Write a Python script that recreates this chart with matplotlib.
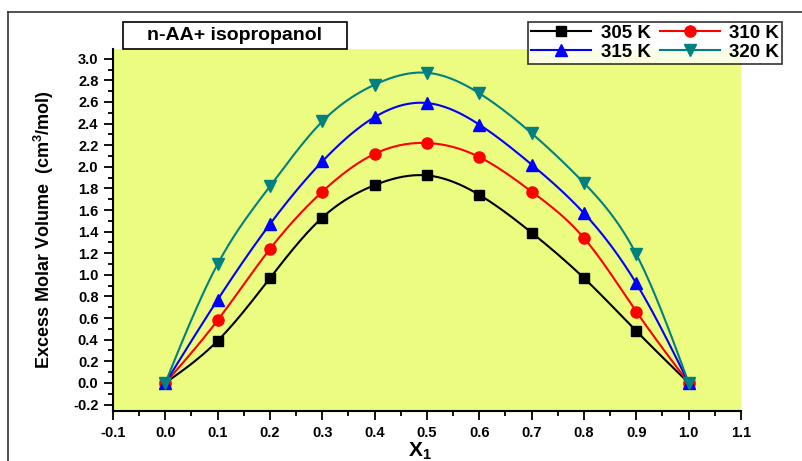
import numpy as np
import matplotlib
matplotlib.use("Agg")
import matplotlib.pyplot as plt
from matplotlib.ticker import MultipleLocator

plt.rcParams['font.family'] = ['Liberation Sans', 'DejaVu Sans']
plt.rcParams['font.weight'] = 'bold'
plt.rcParams['mathtext.fontset'] = 'custom'
plt.rcParams['mathtext.bf'] = 'Liberation Sans:bold'
plt.rcParams['mathtext.rm'] = 'Liberation Sans:bold'

# mole fraction and excess molar volume data
x1 = [0.0, 0.1, 0.2, 0.3, 0.4, 0.5, 0.6, 0.7, 0.8, 0.9, 1.0]
v_305 = [0.0, 0.39, 0.97, 1.53, 1.83, 1.92, 1.74, 1.39, 0.97, 0.48, 0.0]
v_310 = [0.0, 0.58, 1.24, 1.77, 2.12, 2.22, 2.09, 1.77, 1.34, 0.66, 0.0]
v_315 = [0.0, 0.77, 1.47, 2.05, 2.46, 2.59, 2.39, 2.02, 1.57, 0.92, 0.0]
v_320 = [0.0, 1.10, 1.82, 2.42, 2.76, 2.87, 2.68, 2.31, 1.85, 1.19, 0.0]

labels = ["305 K", "310 K", "315 K", "320 K"]
colors = ["black", "red", "blue", "#008080"]
markers = ["s", "o", "^", "v"]
msizes = [7, 8, 9, 9]


def spline(x, y, n=300):
    # natural cubic spline, only used to draw the smooth connecting line
    x = np.asarray(x, float)
    y = np.asarray(y, float)
    h = np.diff(x)
    m = len(x)
    A = np.zeros((m, m))
    b = np.zeros(m)
    A[0, 0] = A[-1, -1] = 1
    for i in range(1, m - 1):
        A[i, i - 1] = h[i - 1]
        A[i, i] = 2 * (h[i - 1] + h[i])
        A[i, i + 1] = h[i]
        b[i] = 6 * ((y[i + 1] - y[i]) / h[i] - (y[i] - y[i - 1]) / h[i - 1])
    M = np.linalg.solve(A, b)
    xs = np.linspace(x[0], x[-1], n)
    idx = np.clip(np.searchsorted(x, xs) - 1, 0, m - 2)
    xa, xb = x[idx], x[idx + 1]
    hh = xb - xa
    ys = (M[idx] * (xb - xs) ** 3 / (6 * hh) + M[idx + 1] * (xs - xa) ** 3 / (6 * hh)
          + (y[idx] / hh - M[idx] * hh / 6) * (xb - xs)
          + (y[idx + 1] / hh - M[idx + 1] * hh / 6) * (xs - xa))
    return xs, ys


fig = plt.figure(figsize=(8.03, 4.61), dpi=100)
ax = fig.add_axes([113 / 803, 1 - 411 / 461, (741 - 113) / 803, (411 - 49) / 461])
ax.set_facecolor("#ebfc80")

handles = []
for y, lab, c, mk, ms in zip([v_305, v_310, v_315, v_320], labels, colors, markers, msizes):
    xs, ys = spline(x1, y)
    ax.plot(xs, ys, color=c, lw=1.5)
    ax.plot(x1, y, ls="none", marker=mk, color=c, ms=ms)
    h, = ax.plot([], [], color=c, lw=1.5, marker=mk, ms=ms, label=lab)
    handles.append(h)

ax.set_xlim(-0.1, 1.1)
ax.set_ylim(-0.26, 3.09)
ax.xaxis.set_minor_locator(MultipleLocator(0.05))
ax.yaxis.set_minor_locator(MultipleLocator(0.1))
ax.set_xticks(np.arange(-0.1, 1.11, 0.1))
ax.set_xticklabels(["%.1f" % v for v in np.arange(-0.1, 1.11, 0.1)])
ax.set_yticks(np.arange(-0.2, 3.01, 0.2))
ax.set_yticklabels(["%.1f" % v for v in np.arange(-0.2, 3.01, 0.2)])
ax.tick_params(which="major", direction="out", length=6.5, width=1.3, labelsize=10.5, pad=4)
ax.tick_params(which="minor", direction="out", length=3.5, width=1.3)
for s in ["top", "right"]:
    ax.spines[s].set_visible(False)
for s in ["left", "bottom"]:
    ax.spines[s].set_linewidth(1.5)

ax.set_ylabel("Excess Molar Volume  (cm$^\\mathbf{3}$/mol)", fontsize=13, fontweight="bold",
              labelpad=12)
fig.text(420 / 803, 1 - 451 / 461, "X$_\\mathbf{1}$", fontsize=15, ha="center", va="center")

# title box
fig.add_artist(plt.Rectangle((123 / 803, 1 - 49 / 461), 224 / 803, 27 / 461,
                             transform=fig.transFigure, fc="white", ec="black", lw=1.2))
fig.text(235 / 803, 1 - 35.5 / 461, "n-AA+ isopropanol", fontsize=14, ha="center", va="center")

# legend filled row by row: 305, 310 / 315, 320
order = [0, 2, 1, 3]
leg = fig.legend([handles[i] for i in order], [labels[i] for i in order],
                 loc="upper right", bbox_to_anchor=(782 / 803, 1 - 22 / 461), ncol=2,
                 fontsize=13.5, frameon=True, fancybox=False, handlelength=3.2,
                 columnspacing=0.5, handletextpad=0.5, borderpad=0.15, labelspacing=0.1,
                 borderaxespad=0)
leg.get_frame().set_edgecolor("black")
leg.get_frame().set_linewidth(1.2)

# frame lines of the page
fig.add_artist(plt.Line2D([8 / 803, 1], [1 - 12 / 461] * 2, color="#333333", lw=1.2))
fig.add_artist(plt.Line2D([8 / 803] * 2, [0, 1 - 12 / 461], color="#333333", lw=1.2))

fig.savefig("out.png", dpi=100)
